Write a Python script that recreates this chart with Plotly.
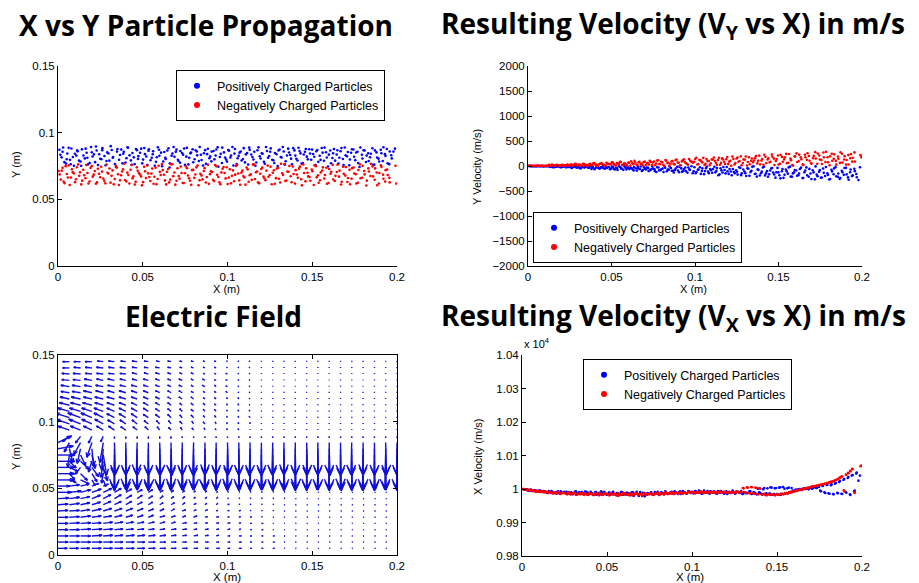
import math
import plotly.graph_objects as go
import plotly.figure_factory as ff

# ---------------- data ----------------
# particle snapshot A
X_POS = [0.0008, 0.0021, 0.0030, 0.0047, 0.0055, 0.0071, 0.0079, 0.0094, 0.0108, 0.0116,
         0.0133, 0.0141, 0.0158, 0.0169, 0.0177, 0.0195, 0.0204, 0.0219, 0.0228, 0.0243,
         0.0256, 0.0262, 0.0281, 0.0290, 0.0303, 0.0317, 0.0325, 0.0342, 0.0351, 0.0366,
         0.0380, 0.0388, 0.0404, 0.0413, 0.0430, 0.0439, 0.0452, 0.0466, 0.0474, 0.0491,
         0.0502, 0.0513, 0.0527, 0.0536, 0.0553, 0.0561, 0.0578, 0.0589, 0.0598, 0.0614,
         0.0627, 0.0635, 0.0652, 0.0660, 0.0675, 0.0687, 0.0699, 0.0711, 0.0722, 0.0738,
         0.0749, 0.0760, 0.0774, 0.0785, 0.0798, 0.0812, 0.0821, 0.0836, 0.0847, 0.0861,
         0.0873, 0.0884, 0.0898, 0.0907, 0.0923, 0.0934, 0.0946, 0.0960, 0.0969, 0.0986,
         0.0997, 0.1009, 0.1021, 0.1035, 0.1044, 0.1060, 0.1071, 0.1083, 0.1096, 0.1108,
         0.1122, 0.1131, 0.1147, 0.1158, 0.1170, 0.1183, 0.1195, 0.1207, 0.1220, 0.1233,
         0.1246, 0.1255, 0.1271, 0.1280, 0.1296, 0.1307, 0.1319, 0.1332, 0.1343, 0.1358,
         0.1370, 0.1380, 0.1395, 0.1406, 0.1419, 0.1431, 0.1444, 0.1457, 0.1468, 0.1482,
         0.1494, 0.1505, 0.1520, 0.1530, 0.1544, 0.1556, 0.1569, 0.1581, 0.1593, 0.1606,
         0.1619, 0.1628, 0.1644, 0.1655, 0.1667, 0.1681, 0.1692, 0.1705, 0.1718, 0.1729,
         0.1743, 0.1754, 0.1767, 0.1779, 0.1793, 0.1803, 0.1817, 0.1830, 0.1841, 0.1855,
         0.1866, 0.1879, 0.1891, 0.1904, 0.1916, 0.1929, 0.1940, 0.1954, 0.1966, 0.1979]

X_NEG = [0.0004, 0.0016, 0.0027, 0.0039, 0.0052, 0.0063, 0.0076, 0.0087, 0.0101, 0.0112,
         0.0125, 0.0137, 0.0149, 0.0162, 0.0174, 0.0186, 0.0199, 0.0211, 0.0224, 0.0235,
         0.0249, 0.0260, 0.0273, 0.0286, 0.0297, 0.0310, 0.0322, 0.0335, 0.0347, 0.0359,
         0.0372, 0.0384, 0.0396, 0.0409, 0.0421, 0.0434, 0.0445, 0.0458, 0.0470, 0.0483,
         0.0495, 0.0508, 0.0519, 0.0532, 0.0545, 0.0556, 0.0569, 0.0581, 0.0594, 0.0606,
         0.0618, 0.0631, 0.0643, 0.0656, 0.0667, 0.0680, 0.0692, 0.0705, 0.0717, 0.0729,
         0.0742, 0.0754, 0.0767, 0.0779, 0.0791, 0.0804, 0.0816, 0.0829, 0.0840, 0.0853,
         0.0865, 0.0878, 0.0890, 0.0902, 0.0915, 0.0927, 0.0939, 0.0952, 0.0964, 0.0977,
         0.0989, 0.1001, 0.1014, 0.1026, 0.1039, 0.1050, 0.1063, 0.1075, 0.1088, 0.1100,
         0.1113, 0.1125, 0.1137, 0.1150, 0.1162, 0.1175, 0.1187, 0.1199, 0.1212, 0.1224,
         0.1237, 0.1249, 0.1261, 0.1274, 0.1286, 0.1299, 0.1311, 0.1323, 0.1336, 0.1348,
         0.1360, 0.1373, 0.1385, 0.1398, 0.1410, 0.1422, 0.1435, 0.1447, 0.1460, 0.1472,
         0.1484, 0.1497, 0.1509, 0.1521, 0.1534, 0.1546, 0.1559, 0.1571, 0.1583, 0.1596,
         0.1608, 0.1621, 0.1633, 0.1645, 0.1658, 0.1670, 0.1682, 0.1695, 0.1707, 0.1720,
         0.1732, 0.1744, 0.1757, 0.1769, 0.1781, 0.1794, 0.1806, 0.1819, 0.1831, 0.1843,
         0.1856, 0.1868, 0.1880, 0.1893, 0.1905, 0.1918, 0.1930, 0.1942, 0.1955, 0.1996]

Y_POS = [0.0872, 0.0815, 0.0889, 0.0768, 0.0843, 0.0796, 0.0881, 0.0752, 0.0828, 0.0860,
         0.0784, 0.0875, 0.0807, 0.0849, 0.0762, 0.0893, 0.0821, 0.0779, 0.0866, 0.0838,
         0.0801, 0.0884, 0.0756, 0.0852, 0.0790, 0.0870, 0.0817, 0.0743, 0.0878, 0.0833,
         0.0771, 0.0856, 0.0809, 0.0887, 0.0792, 0.0847, 0.0764, 0.0869, 0.0824, 0.0880,
         0.0798, 0.0839, 0.0757, 0.0876, 0.0812, 0.0861, 0.0781, 0.0891, 0.0826, 0.0748,
         0.0855, 0.0803, 0.0883, 0.0770, 0.0844, 0.0819, 0.0873, 0.0787, 0.0862, 0.0835,
         0.0759, 0.0886, 0.0811, 0.0851, 0.0778, 0.0868, 0.0830, 0.0893, 0.0795, 0.0846,
         0.0766, 0.0879, 0.0822, 0.0858, 0.0800, 0.0874, 0.0745, 0.0841, 0.0888, 0.0813,
         0.0783, 0.0865, 0.0829, 0.0754, 0.0877, 0.0808, 0.0850, 0.0791, 0.0884, 0.0837,
         0.0761, 0.0871, 0.0818, 0.0857, 0.0776, 0.0890, 0.0806, 0.0842, 0.0767, 0.0863,
         0.0825, 0.0882, 0.0793, 0.0848, 0.0750, 0.0873, 0.0814, 0.0859, 0.0786, 0.0880,
         0.0832, 0.0763, 0.0867, 0.0804, 0.0887, 0.0845, 0.0773, 0.0856, 0.0820, 0.0876,
         0.0797, 0.0840, 0.0758, 0.0870, 0.0827, 0.0885, 0.0789, 0.0853, 0.0746, 0.0866,
         0.0810, 0.0878, 0.0836, 0.0769, 0.0861, 0.0802, 0.0889, 0.0823, 0.0755, 0.0849,
         0.0874, 0.0794, 0.0857, 0.0742, 0.0834, 0.0868, 0.0780, 0.0846, 0.0816, 0.0883,
         0.0760, 0.0852, 0.0805, 0.0871, 0.0788, 0.0839, 0.0877, 0.0764, 0.0831, 0.0858]

Y_NEG = [0.0712, 0.0648, 0.0736, 0.0621, 0.0690, 0.0755, 0.0663, 0.0704, 0.0629, 0.0741,
         0.0677, 0.0612, 0.0722, 0.0658, 0.0697, 0.0634, 0.0749, 0.0685, 0.0617, 0.0729,
         0.0666, 0.0708, 0.0640, 0.0761, 0.0693, 0.0625, 0.0717, 0.0652, 0.0738, 0.0608,
         0.0681, 0.0725, 0.0645, 0.0700, 0.0619, 0.0758, 0.0672, 0.0631, 0.0714, 0.0687,
         0.0605, 0.0744, 0.0660, 0.0695, 0.0637, 0.0731, 0.0669, 0.0614, 0.0752, 0.0683,
         0.0720, 0.0642, 0.0706, 0.0627, 0.0764, 0.0674, 0.0610, 0.0733, 0.0655, 0.0698,
         0.0623, 0.0747, 0.0679, 0.0639, 0.0719, 0.0661, 0.0740, 0.0606, 0.0691, 0.0650,
         0.0734, 0.0668, 0.0616, 0.0711, 0.0646, 0.0757, 0.0684, 0.0628, 0.0702, 0.0743,
         0.0657, 0.0615, 0.0726, 0.0676, 0.0636, 0.0750, 0.0694, 0.0609, 0.0715, 0.0664,
         0.0739, 0.0632, 0.0688, 0.0760, 0.0653, 0.0709, 0.0620, 0.0727, 0.0671, 0.0644,
         0.0753, 0.0682, 0.0613, 0.0718, 0.0659, 0.0736, 0.0626, 0.0696, 0.0765, 0.0641,
         0.0707, 0.0673, 0.0746, 0.0618, 0.0686, 0.0730, 0.0651, 0.0762, 0.0635, 0.0699,
         0.0667, 0.0723, 0.0607, 0.0748, 0.0680, 0.0643, 0.0716, 0.0656, 0.0737, 0.0622,
         0.0692, 0.0759, 0.0638, 0.0705, 0.0670, 0.0611, 0.0745, 0.0678, 0.0630, 0.0721,
         0.0654, 0.0739, 0.0689, 0.0624, 0.0763, 0.0662, 0.0713, 0.0604, 0.0732, 0.0675,
         0.0747, 0.0647, 0.0701, 0.0619, 0.0756, 0.0685, 0.0633, 0.0724, 0.0661, 0.0618]

VY_POS = [-1, -6, -3, -7, -2, -5, 0, -7, -4, -3,
          -19, -6, -25, -13, -3, -22, -15, -9, -27, -18,
          -18, -37, -8, -32, -23, -43, -12, -26, -4, -34,
          -59, -22, -40, -8, -52, -29, -46, -13, -36, -64,
          -13, -61, -35, -79, -24, -51, -4, -71, -43, -30,
          -70, -23, -92, -48, -11, -82, -58, -33, -102, -66,
          -50, -103, -23, -88, -65, -119, -33, -73, -10, -95,
          -131, -49, -90, -19, -116, -64, -103, -29, -81, -144,
          -26, -122, -70, -158, -48, -102, -9, -143, -85, -60,
          -127, -42, -167, -87, -19, -148, -105, -59, -184, -120,
          -84, -172, -38, -147, -109, -200, -55, -122, -17, -160,
          -212, -80, -146, -31, -188, -103, -167, -47, -132, -233,
          -38, -184, -105, -237, -71, -153, -13, -214, -128, -89,
          -184, -61, -242, -127, -28, -215, -151, -85, -267, -173,
          -114, -234, -51, -200, -148, -271, -74, -165, -23, -217,
          -257, -97, -177, -37, -228, -125, -202, -57, -160, -282]

VY_NEG = [3, 7, 1, 6, 4, 8, 2, 5, 1, 6,
          25, 10, 17, 4, 22, 12, 20, 6, 16, 28,
          7, 32, 18, 42, 13, 27, 2, 38, 23, 16,
          44, 14, 57, 30, 7, 51, 36, 20, 63, 41,
          34, 70, 15, 60, 44, 81, 22, 49, 7, 65,
          95, 36, 65, 14, 84, 46, 75, 21, 59, 104,
          19, 90, 51, 116, 35, 75, 6, 105, 63, 44,
          97, 32, 128, 67, 15, 113, 80, 45, 141, 91,
          68, 139, 31, 119, 88, 162, 44, 99, 14, 129,
          171, 65, 118, 25, 152, 84, 135, 38, 106, 188,
          32, 151, 86, 195, 59, 126, 11, 176, 105, 74,
          157, 52, 207, 108, 24, 183, 129, 73, 228, 148,
          102, 209, 46, 179, 133, 242, 66, 148, 20, 194,
          252, 95, 174, 36, 224, 123, 199, 56, 157, 277,
          44, 209, 119, 270, 81, 174, 15, 244, 145, 102,
          188, 62, 246, 129, 28, 218, 154, 87, 272, 176]

VX_POS = [10000, 9998, 9999, 9996, 9997, 9994, 9996, 9993, 9995, 9992,
          9993, 9990, 9994, 9989, 9992, 9988, 9991, 9987, 9993, 9989,
          9988, 9992, 9985, 9990, 9987, 9993, 9984, 9989, 9991, 9986,
          9989, 9984, 9992, 9986, 9990, 9983, 9988, 9993, 9985, 9987,
          9984, 9990, 9986, 9992, 9982, 9988, 9985, 9991, 9983, 9989,
          9987, 9981, 9990, 9984, 9992, 9979, 9986, 9989, 9978, 9988,
          9985, 9990, 9983, 9988, 9992, 9986, 9989, 9984, 9991, 9987,
          9990, 9986, 9993, 9988, 9991, 9985, 9994, 9989, 9987, 9992,
          9991, 9987, 9994, 9989, 9992, 9986, 9995, 9990, 9988, 9993,
          9989, 9993, 9986, 9991, 9994, 9988, 9990, 9985, 9992, 9989,
          9990, 9986, 9992, 9988, 9985, 9991, 9987, 9989, 9993, 9986,
          9988, 9984, 9990, 9986, 9999, 9983, 10002, 9987, 10004, 9985,
          10003, 9984, 10005, 9986, 10001, 9988, 10004, 9992, 9995, 9997,
          9996, 9999, 9998, 10001, 10000, 10002, 10003, 10001, 10005, 10004,
          10007, 9995, 10009, 9990, 10012, 9987, 10011, 9985, 10016, 9989,
          10021, 9986, 10027, 9991, 10033, 9984, 10040, 9993, 10046, 10025]

VX_NEG = [10000, 9999, 9997, 9998, 9995, 9996, 9993, 9995, 9992, 9993,
          9991, 9993, 9989, 9992, 9988, 9990, 9987, 9991, 9986, 9989,
          9988, 9985, 9990, 9984, 9987, 9989, 9983, 9986, 9988, 9984,
          9986, 9983, 9988, 9985, 9982, 9987, 9984, 9989, 9983, 9986,
          9985, 9982, 9988, 9984, 9986, 9981, 9987, 9983, 9989, 9985,
          9983, 9987, 9982, 9985, 9988, 9984, 9986, 9981, 9987, 9984,
          9985, 9988, 9983, 9986, 9989, 9984, 9987, 9985, 9990, 9986,
          9987, 9990, 9986, 9989, 9988, 9991, 9987, 9990, 9988, 9992,
          9989, 9992, 9988, 9991, 9990, 9993, 9989, 9991, 9990, 9992,
          9990, 9992, 9989, 9991, 9993, 9990, 9992, 9989, 9991, 9990,
          9991, 9989, 9993, 9990, 9992, 10003, 9990, 10005, 9988, 10006,
          9987, 10004, 9985, 10002, 9984, 9986, 9982, 9985, 9983, 9984,
          9982, 9985, 9983, 9986, 9985, 9988, 9987, 9990, 9991, 9993,
          9995, 9997, 9998, 10000, 10001, 10003, 10004, 10006, 10008, 10009,
          10010, 10012, 10013, 10015, 10016, 10018, 10020, 10022, 10024, 10027,
          10030, 10034, 10038, 9996, 10043, 10048, 10054, 10060, 9990, 10070]

# particle snapshot B
X_POS_B = [0.0014, 0.0027, 0.0038, 0.0052, 0.0063, 0.0075, 0.0088, 0.0100, 0.0113, 0.0124,
           0.0137, 0.0150, 0.0163, 0.0173, 0.0187, 0.0199, 0.0212, 0.0224, 0.0236, 0.0249,
           0.0261, 0.0274, 0.0286, 0.0298, 0.0311, 0.0323, 0.0336, 0.0348, 0.0360, 0.0373,
           0.0385, 0.0398, 0.0410, 0.0422, 0.0435, 0.0447, 0.0460, 0.0472, 0.0484, 0.0497,
           0.0509, 0.0521, 0.0534, 0.0546, 0.0559, 0.0571, 0.0583, 0.0596, 0.0608, 0.0621,
           0.0633, 0.0645, 0.0658, 0.0670, 0.0682, 0.0695, 0.0707, 0.0720, 0.0732, 0.0744,
           0.0757, 0.0769, 0.0781, 0.0794, 0.0806, 0.0819, 0.0831, 0.0843, 0.0856, 0.0868,
           0.0880, 0.0893, 0.0905, 0.0918, 0.0930, 0.0942, 0.0955, 0.0967, 0.0979, 0.0992,
           0.1004, 0.1017, 0.1029, 0.1041, 0.1054, 0.1066, 0.1078, 0.1091, 0.1103, 0.1116,
           0.1128, 0.1140, 0.1153, 0.1165, 0.1177, 0.1190, 0.1202, 0.1215, 0.1227, 0.1239,
           0.1252, 0.1264, 0.1276, 0.1289, 0.1301, 0.1314, 0.1326, 0.1338, 0.1351, 0.1363,
           0.1375, 0.1388, 0.1400, 0.1413, 0.1425, 0.1437, 0.1450, 0.1462, 0.1474, 0.1487,
           0.1499, 0.1512, 0.1524, 0.1536, 0.1549, 0.1561, 0.1573, 0.1586, 0.1598, 0.1611,
           0.1623, 0.1635, 0.1648, 0.1660, 0.1672, 0.1685, 0.1697, 0.1710, 0.1722, 0.1734,
           0.1747, 0.1759, 0.1771, 0.1784, 0.1796, 0.1809, 0.1821, 0.1833, 0.1846, 0.1858,
           0.1870, 0.1883, 0.1895, 0.1908, 0.1920, 0.1932, 0.1945, 0.1957, 0.1969, 0.1988]

X_NEG_B = [0.0010, 0.0022, 0.0033, 0.0045, 0.0058, 0.0069, 0.0082, 0.0093, 0.0106, 0.0119,
           0.0130, 0.0143, 0.0155, 0.0167, 0.0180, 0.0192, 0.0205, 0.0217, 0.0230, 0.0242,
           0.0255, 0.0267, 0.0279, 0.0292, 0.0304, 0.0316, 0.0329, 0.0341, 0.0354, 0.0366,
           0.0378, 0.0391, 0.0403, 0.0415, 0.0428, 0.0440, 0.0453, 0.0465, 0.0477, 0.0490,
           0.0502, 0.0514, 0.0527, 0.0539, 0.0551, 0.0564, 0.0576, 0.0588, 0.0601, 0.0613,
           0.0625, 0.0638, 0.0650, 0.0662, 0.0675, 0.0687, 0.0699, 0.0712, 0.0724, 0.0736,
           0.0749, 0.0761, 0.0773, 0.0786, 0.0798, 0.0810, 0.0823, 0.0835, 0.0847, 0.0860,
           0.0872, 0.0884, 0.0897, 0.0909, 0.0921, 0.0934, 0.0946, 0.0958, 0.0971, 0.0983,
           0.0995, 0.1008, 0.1020, 0.1032, 0.1045, 0.1057, 0.1069, 0.1082, 0.1094, 0.1106,
           0.1119, 0.1131, 0.1143, 0.1156, 0.1168, 0.1180, 0.1193, 0.1205, 0.1217, 0.1230,
           0.1242, 0.1254, 0.1267, 0.1279, 0.1291, 0.1304, 0.1316, 0.1328, 0.1341, 0.1353,
           0.1365, 0.1378, 0.1390, 0.1402, 0.1415, 0.1427, 0.1439, 0.1452, 0.1464, 0.1476,
           0.1489, 0.1501, 0.1513, 0.1526, 0.1538, 0.1550, 0.1563, 0.1575, 0.1587, 0.1600,
           0.1612, 0.1624, 0.1637, 0.1649, 0.1661, 0.1674, 0.1686, 0.1698, 0.1711, 0.1723,
           0.1735, 0.1748, 0.1760, 0.1772, 0.1785, 0.1797, 0.1809, 0.1822, 0.1834, 0.1846,
           0.1859, 0.1871, 0.1883, 0.1896, 0.1908, 0.1920, 0.1933, 0.1945, 0.1957, 0.1991]

Y_POS_B = [0.0834, 0.0857, 0.0779, 0.0801, 0.0886, 0.0763, 0.0818, 0.0842, 0.0867, 0.0790,
           0.0751, 0.0829, 0.0880, 0.0812, 0.0773, 0.0853, 0.0837, 0.0896, 0.0758, 0.0804,
           0.0868, 0.0825, 0.0787, 0.0844, 0.0899, 0.0812, 0.0765, 0.0858, 0.0797, 0.0874,
           0.0842, 0.0776, 0.0890, 0.0831, 0.0759, 0.0815, 0.0877, 0.0803, 0.0849, 0.0770,
           0.0885, 0.0821, 0.0864, 0.0793, 0.0838, 0.0752, 0.0816, 0.0872, 0.0850, 0.0784,
           0.0811, 0.0866, 0.0739, 0.0827, 0.0892, 0.0856, 0.0797, 0.0774, 0.0847, 0.0881,
           0.0820, 0.0762, 0.0845, 0.0876, 0.0801, 0.0859, 0.0788, 0.0834, 0.0753, 0.0869,
           0.0839, 0.0808, 0.0785, 0.0863, 0.0829, 0.0891, 0.0817, 0.0772, 0.0852, 0.0798,
           0.0870, 0.0814, 0.0892, 0.0843, 0.0765, 0.0826, 0.0859, 0.0802, 0.0777, 0.0848,
           0.0888, 0.0836, 0.0799, 0.0752, 0.0868, 0.0823, 0.0846, 0.0781, 0.0892, 0.0812,
           0.0857, 0.0796, 0.0772, 0.0839, 0.0866, 0.0818, 0.0893, 0.0760, 0.0829, 0.0851,
           0.0805, 0.0884, 0.0828, 0.0791, 0.0862, 0.0768, 0.0836, 0.0878, 0.0800, 0.0844,
           0.0873, 0.0819, 0.0861, 0.0781, 0.0796, 0.0850, 0.0888, 0.0814, 0.0835, 0.0771,
           0.0845, 0.0790, 0.0868, 0.0812, 0.0885, 0.0758, 0.0830, 0.0855, 0.0799, 0.0876,
           0.0819, 0.0851, 0.0773, 0.0889, 0.0806, 0.0866, 0.0828, 0.0787, 0.0842, 0.0759,
           0.0867, 0.0813, 0.0784, 0.0846, 0.0891, 0.0825, 0.0770, 0.0859, 0.0807, 0.0880]

Y_NEG_B = [0.0687, 0.0715, 0.0633, 0.0749, 0.0664, 0.0608, 0.0726, 0.0695, 0.0651, 0.0762,
           0.0703, 0.0640, 0.0681, 0.0758, 0.0619, 0.0735, 0.0670, 0.0712, 0.0627, 0.0691,
           0.0744, 0.0656, 0.0620, 0.0699, 0.0731, 0.0676, 0.0613, 0.0752, 0.0688, 0.0643,
           0.0709, 0.0767, 0.0635, 0.0683, 0.0722, 0.0659, 0.0611, 0.0740, 0.0697, 0.0672,
           0.0629, 0.0710, 0.0754, 0.0668, 0.0693, 0.0617, 0.0737, 0.0652, 0.0706, 0.0765,
           0.0684, 0.0612, 0.0727, 0.0648, 0.0763, 0.0701, 0.0639, 0.0675, 0.0746, 0.0622,
           0.0696, 0.0733, 0.0658, 0.0609, 0.0721, 0.0686, 0.0753, 0.0644, 0.0678, 0.0712,
           0.0626, 0.0760, 0.0689, 0.0705, 0.0637, 0.0748, 0.0667, 0.0614, 0.0729, 0.0698,
           0.0741, 0.0663, 0.0620, 0.0717, 0.0685, 0.0757, 0.0642, 0.0700, 0.0674, 0.0610,
           0.0725, 0.0681, 0.0646, 0.0762, 0.0703, 0.0627, 0.0692, 0.0738, 0.0658, 0.0715,
           0.0669, 0.0744, 0.0699, 0.0616, 0.0731, 0.0654, 0.0766, 0.0683, 0.0638, 0.0708,
           0.0750, 0.0628, 0.0690, 0.0719, 0.0662, 0.0745, 0.0605, 0.0697, 0.0733, 0.0672,
           0.0639, 0.0711, 0.0756, 0.0665, 0.0624, 0.0702, 0.0740, 0.0682, 0.0617, 0.0728,
           0.0706, 0.0649, 0.0676, 0.0759, 0.0715, 0.0632, 0.0691, 0.0743, 0.0660, 0.0613,
           0.0734, 0.0694, 0.0619, 0.0720, 0.0658, 0.0751, 0.0687, 0.0640, 0.0709, 0.0766,
           0.0672, 0.0732, 0.0606, 0.0697, 0.0743, 0.0654, 0.0719, 0.0683, 0.0627, 0.0752]

VY_POS_B = [-4, -1, -7, -3, -5, -2, -8, -4, 0, -6,
            -8, -23, -13, -2, -18, -25, -11, -5, -20, -15,
            -38, -20, -6, -27, -43, -11, -30, -16, -36, -4,
            -33, -63, -16, -45, -27, -7, -54, -38, -20, -49,
            -25, -69, -41, -6, -54, -77, -32, -14, -61, -45,
            -89, -46, -15, -62, -101, -26, -69, -38, -83, -9,
            -63, -121, -30, -86, -53, -14, -104, -73, -39, -95,
            -80, -17, -126, -48, -99, -30, -136, -67, -4, -107,
            -145, -75, -24, -100, -163, -43, -112, -61, -134, -15,
            -95, -184, -46, -131, -80, -21, -158, -110, -59, -144,
            -116, -25, -183, -69, -143, -44, -197, -97, -6, -155,
            -68, -190, -113, -16, -148, -214, -89, -40, -169, -125,
            -128, -247, -61, -176, -107, -28, -212, -148, -79, -194,
            -151, -33, -239, -91, -187, -58, -259, -127, -8, -204,
            -83, -231, -137, -20, -180, -259, -108, -48, -205, -151,
            -242, -125, -40, -168, -274, -71, -188, -103, -225, -26]

VY_NEG_B = [7, 4, 1, 5, 8, 2, 5, 3, 6, 1,
            14, 27, 7, 19, 12, 3, 23, 16, 9, 21,
            25, 5, 39, 15, 31, 9, 42, 21, 1, 33,
            19, 53, 31, 5, 41, 59, 25, 11, 47, 34,
            72, 37, 12, 50, 82, 21, 56, 31, 67, 8,
            53, 102, 25, 72, 44, 12, 87, 61, 33, 80,
            69, 15, 109, 41, 85, 26, 118, 58, 4, 93,
            42, 117, 70, 10, 91, 132, 55, 25, 104, 77,
            85, 165, 41, 117, 71, 19, 141, 99, 53, 129,
            105, 23, 165, 63, 129, 40, 179, 87, 6, 141,
            61, 170, 101, 15, 132, 191, 80, 36, 151, 111,
            200, 103, 33, 139, 226, 59, 155, 85, 186, 21,
            140, 31, 222, 84, 173, 54, 240, 117, 8, 189,
            81, 227, 134, 20, 176, 255, 106, 48, 202, 148,
            251, 130, 41, 174, 283, 74, 195, 106, 233, 27,
            143, 276, 68, 197, 120, 31, 237, 165, 88, 217]

VX_POS_B = [9999, 9997, 9995, 9998, 9994, 9996, 9993, 9995, 9991, 9994,
            9992, 9988, 9991, 9994, 9987, 9990, 9993, 9986, 9989, 9992,
            9986, 9991, 9989, 9984, 9992, 9987, 9990, 9985, 9988, 9993,
            9990, 9985, 9988, 9982, 9991, 9986, 9984, 9989, 9992, 9983,
            9987, 9983, 9990, 9985, 9988, 9981, 9991, 9986, 9984, 9989,
            9984, 9990, 9980, 9987, 9985, 9991, 9979, 9988, 9983, 9986,
            9989, 9984, 9991, 9986, 9982, 9990, 9987, 9993, 9985, 9988,
            9992, 9987, 9990, 9985, 9993, 9988, 9991, 9986, 9994, 9989,
            9988, 9993, 9990, 9995, 9987, 9991, 9989, 9994, 9986, 9992,
            9991, 9987, 9994, 9989, 9992, 9986, 9993, 9990, 9988, 9995,
            9987, 9992, 9989, 9994, 9986, 9990, 9988, 9993, 9985, 9991,
            9986, 10001, 9989, 9984, 10003, 9987, 9985, 10005, 9983, 10002,
            9985, 10004, 9983, 10006, 9987, 10002, 9990, 10003, 9993, 9998,
            9998, 10000, 9997, 10002, 10001, 9999, 10004, 10002, 10006, 10003,
            10006, 9993, 10010, 9988, 10013, 9986, 10014, 9984, 10018, 9987,
            10024, 9985, 10030, 9989, 10036, 9982, 10042, 9995, 10049, 10040]

VX_NEG_B = [9999, 9998, 9996, 9997, 9994, 9995, 9992, 9994, 9991, 9993,
            9990, 9992, 9988, 9991, 9987, 9989, 9986, 9990, 9985, 9988,
            9987, 9984, 9989, 9985, 9988, 9983, 9986, 9984, 9987, 9982,
            9985, 9982, 9987, 9984, 9983, 9986, 9981, 9985, 9982, 9987,
            9984, 9981, 9986, 9983, 9985, 9980, 9984, 9982, 9987, 9983,
            9982, 9986, 9981, 9984, 9987, 9983, 9985, 9980, 9986, 9983,
            9984, 9987, 9982, 9985, 9988, 9983, 9986, 9984, 9989, 9985,
            9986, 9989, 9985, 9988, 9987, 9990, 9986, 9989, 9987, 9991,
            9988, 9991, 9987, 9990, 9989, 9992, 9988, 9990, 9989, 9991,
            9989, 9991, 9988, 9990, 9992, 9989, 9991, 9988, 9990, 9989,
            9990, 9988, 9992, 9989, 9991, 10002, 9989, 10004, 9987, 10005,
            9986, 10003, 9984, 10001, 9983, 9985, 9981, 9984, 9982, 9983,
            9981, 9984, 9982, 9985, 9984, 9987, 9986, 9989, 9990, 9992,
            9994, 9996, 9997, 9999, 10000, 10002, 10003, 10005, 10007, 10008,
            10009, 10011, 10012, 10014, 10015, 10017, 10019, 10021, 10023, 10026,
            10029, 10033, 10037, 9993, 10042, 10047, 10053, 10059, 9988, 10068]

# Electric field sample grid and vector components (arrow length in units of 0.0005 m)
X_GRID = [0, 0.0067, 0.0133, 0.02, 0.0267, 0.0333, 0.04, 0.0467, 0.0533, 0.06, 0.0667,
          0.0733, 0.08, 0.0867, 0.0933, 0.1, 0.1067, 0.1133, 0.12, 0.1267, 0.1333, 0.14,
          0.1467, 0.1533, 0.16, 0.1667, 0.1733, 0.18, 0.1867, 0.1933, 0.2]
Y_GRID = [0.005, 0.0097, 0.0143, 0.019, 0.0237, 0.0283, 0.033, 0.0377, 0.0423, 0.047,
          0.0517, 0.0563, 0.061, 0.0657, 0.0703, 0.075, 0.0797, 0.0843, 0.089, 0.0937,
          0.0983, 0.103, 0.1077, 0.1123, 0.117, 0.1217, 0.1263, 0.131, 0.1357, 0.1403, 0.145]

U_ROWS = [
    [11, 11, 11, 11, 11, 10, 10, 9, 8, 7, 6, 6, 5, 4, 4, 3, 3, 2, 2, 2, 1, 1, 1, 1, 1, 1, 1, 1, 1, 1, 1],
    [12, 12, 12, 12, 11, 10, 10, 9, 8, 7, 6, 5, 5, 4, 3, 3, 3, 2, 2, 2, 1, 1, 1, 1, 1, 1, 1, 1, 1, 1, 1],
    [12, 12, 12, 12, 11, 10, 10, 9, 8, 7, 6, 5, 5, 4, 3, 3, 3, 2, 2, 2, 1, 1, 1, 1, 1, 1, 1, 1, 1, 1, 1],
    [12, 12, 12, 12, 11, 10, 9, 8, 7, 6, 6, 5, 4, 4, 3, 3, 2, 2, 2, 1, 1, 1, 1, 1, 1, 1, 1, 1, 1, 1, 1],
    [12, 12, 12, 11, 11, 10, 9, 8, 7, 6, 5, 5, 4, 3, 3, 3, 2, 2, 2, 1, 1, 1, 1, 1, 1, 1, 1, 1, 1, 1, 1],
    [12, 12, 12, 11, 10, 9, 8, 7, 6, 6, 5, 4, 4, 3, 3, 2, 2, 2, 1, 1, 1, 1, 1, 1, 1, 1, 1, 1, 1, 1, 1],
    [12, 12, 11, 11, 10, 9, 8, 7, 6, 5, 4, 4, 3, 3, 2, 2, 2, 1, 1, 1, 1, 1, 1, 1, 1, 1, 1, 1, 1, 1, 1],
    [12, 12, 11, 10, 9, 8, 7, 6, 5, 4, 4, 3, 3, 2, 2, 2, 1, 1, 1, 1, 1, 1, 1, 1, 1, 1, 1, 1, 1, 1, 1],
    [13, 12, 11, 10, 9, 8, 7, 6, 5, 4, 3, 3, 2, 2, 2, 1, 1, 1, 1, 1, 1, 1, 1, 1, 1, 1, 1, 1, 1, 1, 1],
    [16, 14, 12, 11, 10, 8, 7, 6, 5, 4, 3, 3, 2, 2, 2, 1, 1, 1, 1, 1, 1, 1, 1, 1, 1, 1, 1, 1, 1, 1, 1],
    [14, 12, 10, 8, 6, 1, 0, 0, 1, 0, 0, 0, 0, 1, 0, 0, 0, 0, 0, 0, 1, 0, 0, 0, 0, 0, 0, 0, 0, 0, 0],
    [20, 8, 10, 4, 3, 0, 1, 0, 0, 0, -1, 0, 0, 0, 1, 0, 0, 0, 0, -1, 0, 0, 0, 0, 0, 1, 0, 0, 0, 0, 0],
    [20, 6, 8, 6, -2, 0, 0, 1, 0, 0, 0, 0, -1, 0, 0, 0, 1, 0, 0, 0, 0, 0, 0, -1, 0, 0, 0, 0, 1, 0, 0],
    [20, 10, -6, 8, 5, 0, 0, 0, 0, 1, 0, 0, 0, 0, 0, -1, 0, 0, 0, 0, 1, 0, 0, 0, 0, 0, 0, -1, 0, 0, 0],
    [20, 8, 10, -4, -3, 0, 1, 0, 0, 0, 0, 1, 0, 0, 0, 0, 0, 0, 1, 0, 0, 0, 0, 0, 0, 1, 0, 0, 0, 0, 0],
    [20, -2, 6, 4, 4, 0, 0, 0, 1, 0, 0, 0, 0, -1, 0, 0, 0, 0, 0, 0, 0, 1, 0, 0, 0, 0, 0, 0, 0, -1, 0],
    [18, 4, -4, 2, -2, 0, 0, 0, 0, 0, 1, 0, 0, 0, 0, 0, 0, -1, 0, 0, 0, 0, 0, 0, 1, 0, 0, 0, 0, 0, 0],
    [16, -6, -8, -6, -4, 1, 0, -1, 0, 1, 0, 0, -1, 0, 0, 1, 0, 0, 0, -1, 0, 0, 1, 0, 0, 0, -1, 0, 0, 1, 0],
    [-10, -8, -6, -4, -3, 0, 0, 0, 0, 0, 0, 0, 0, 0, 0, 0, 0, 0, 0, 0, 0, 0, 0, 0, 0, 0, 0, 0, 0, 0, 0],
    [-16, -14, -12, -10, -8, -7, -6, -5, -4, -3, -3, -2, -2, -1, -1, -1, -1, 0, 0, 0, 0, 0, 0, 0, 0, 0, 0, 0, 0, 0, 0],
    [-18, -16, -14, -12, -10, -8, -7, -6, -5, -4, -3, -3, -2, -2, -1, -1, -1, 0, 0, 0, 0, 0, 0, 0, 0, 0, 0, 0, 0, 0, 0],
    [-18, -17, -15, -13, -11, -9, -8, -7, -6, -5, -4, -3, -3, -2, -2, -1, -1, -1, 0, 0, 0, 0, 0, 0, 0, 0, 0, 0, 0, 0, 0],
    [-14, -14, -13, -12, -11, -9, -8, -7, -6, -5, -4, -3, -3, -2, -2, -1, -1, -1, 0, 0, 0, 0, 0, 0, 0, 0, 0, 0, 0, 0, 0],
    [-12, -12, -12, -11, -10, -9, -8, -7, -6, -5, -4, -3, -3, -2, -2, -1, -1, -1, 0, 0, 0, 0, 0, 0, 0, 0, 0, 0, 0, 0, 0],
    [-11, -11, -11, -10, -10, -9, -8, -7, -6, -5, -4, -4, -3, -2, -2, -1, -1, -1, 0, 0, 0, 0, 0, 0, 0, 0, 0, 0, 0, 0, 0],
    [-10, -10, -10, -10, -9, -8, -8, -7, -6, -5, -4, -4, -3, -2, -2, -2, -1, -1, 0, 0, 0, 0, 0, 0, 0, 0, 0, 0, 0, 0, 0],
    [-10, -10, -10, -9, -9, -8, -7, -7, -6, -5, -4, -4, -3, -3, -2, -2, -1, -1, 0, 0, 0, 0, 0, 0, 0, 0, 0, 0, 0, 0, 0],
    [-9, -9, -9, -9, -8, -8, -7, -6, -6, -5, -4, -4, -3, -3, -2, -2, -1, -1, 0, 0, 0, 0, 0, 0, 0, 0, 0, 0, 0, 0, 0],
    [-9, -9, -9, -8, -8, -7, -7, -6, -5, -5, -4, -3, -3, -2, -2, -2, -1, -1, 0, 0, 0, 0, 0, 0, 0, 0, 0, 0, 0, 0, 0],
    [-8, -8, -8, -8, -8, -7, -7, -6, -5, -5, -4, -3, -3, -2, -2, -1, -1, -1, 0, 0, 0, 0, 0, 0, 0, 0, 0, 0, 0, 0, 0],
    [-8, -8, -8, -8, -7, -7, -6, -6, -5, -4, -4, -3, -3, -2, -2, -1, -1, -1, 0, 0, 0, 0, 0, 0, 0, 0, 0, 0, 0, 0, 0],
]

V_ROWS = [
    [0, 0, 0, 0, 0, 0, 0, 0, 0, 0, 0, 0, 0, 0, 0, 0, 0, 0, 0, 0, 0, 0, 0, 0, 0, 0, 0, 0, 0, 0, 0],
    [0, 0, 0, 0, 0, 0, 0, 0, 0, 0, 0, 0, 0, 0, 0, 0, 0, 0, 0, 0, 0, 0, 0, 0, 0, 0, 0, 0, 0, 0, 0],
    [0, 0, 0, 1, 1, 1, 1, 1, 1, 1, 1, 1, 1, 1, 1, 0, 0, 0, 0, 0, 0, 0, 0, 0, 0, 0, 0, 0, 0, 0, 0],
    [0, 0, 1, 1, 1, 1, 1, 1, 1, 1, 1, 1, 1, 1, 1, 1, 1, 0, 0, 0, 0, 0, 0, 0, 0, 0, 0, 0, 0, 0, 0],
    [0, 1, 1, 1, 2, 2, 2, 2, 2, 2, 2, 1, 1, 1, 1, 1, 1, 0, 0, 0, 0, 0, 0, 0, 0, 0, 0, 0, 0, 0, 0],
    [0, 1, 2, 2, 2, 3, 3, 3, 3, 2, 2, 2, 2, 1, 1, 1, 1, 1, 1, 0, 0, 0, 0, 0, 0, 0, 0, 0, 0, 0, 0],
    [1, 1, 2, 3, 4, 4, 4, 4, 3, 3, 3, 2, 2, 2, 1, 1, 1, 1, 1, 1, 0, 0, 0, 0, 0, 0, 0, 0, 0, 0, 0],
    [1, 2, 3, 4, 5, 5, 5, 4, 4, 3, 3, 3, 2, 2, 2, 1, 1, 1, 1, 1, 0, 0, 0, 0, 0, 0, 0, 0, 0, 0, 0],
    [1, 2, 3, 5, 6, 6, 5, 5, 4, 4, 3, 3, 2, 2, 2, 1, 1, 1, 1, 1, 1, 0, 0, 0, 0, 0, 0, 0, 0, 0, 0],
    [0, 2, 4, 5, 6, 6, 5, 4, 4, 3, 3, 2, 2, 2, 1, 1, 1, 1, 1, 1, 1, 0, 0, 0, 0, 0, 0, 0, 0, 0, 0],
    [0, 2, 3, 4, 3, -3, -3, -3, -3, -3, -3, -3, -3, -3, -3, -3, -3, -3, -3, -3, -3, -3, -3, -3, -3, -3, -3, -3, -3, -3, -3],
    [0, -4, -6, -8, -10, -14, -14, -13, -14, -14, -14, -13, -14, -14, -14, -14, -13, -14, -14, -14, -14, -14, -13, -14, -14, -14, -14, -13, -14, -14, -14],
    [0, -8, -10, -12, -14, -24, -24, -23, -24, -24, -24, -24, -23, -24, -24, -24, -24, -24, -23, -24, -24, -24, -24, -24, -23, -24, -24, -24, -24, -24, -23],
    [0, -6, -10, -14, -20, -34, -33, -34, -34, -34, -33, -34, -34, -34, -34, -33, -34, -34, -34, -34, -33, -34, -34, -34, -34, -34, -33, -34, -34, -34, -34],
    [0, -10, -12, -16, -24, -44, -44, -43, -44, -44, -44, -44, -43, -44, -44, -44, -44, -44, -43, -44, -44, -44, -44, -43, -44, -44, -44, -44, -44, -43, -44],
    [0, -18, -16, -20, -30, -52, -51, -52, -52, -52, -51, -52, -52, -52, -52, -51, -52, -52, -52, -52, -52, -51, -52, -52, -52, -51, -52, -52, -52, -52, -52],
    [4, -20, -22, -26, -32, -40, -40, -41, -40, -40, -40, -40, -41, -40, -40, -40, -40, -40, -41, -40, -40, -40, -40, -40, -40, -41, -40, -40, -40, -40, -40],
    [10, -14, -18, -22, -30, -48, -48, -47, -48, -48, -48, -48, -48, -47, -48, -48, -48, -48, -48, -48, -47, -48, -48, -48, -48, -48, -48, -47, -48, -48, -48],
    [-6, -8, -10, -10, -8, -3, -3, -3, -3, -3, -3, -2, -2, -2, -2, -2, -2, -2, -2, -2, -2, -2, -2, -2, -2, -2, -2, -2, -2, -2, -2],
    [6, 6, 6, 6, 6, 6, 5, 5, 5, 5, 4, 4, 3, 3, 2, 2, 2, 1, 1, 1, 1, 1, 1, 1, 1, 1, 1, 1, 1, 1, 1],
    [7, 7, 7, 7, 7, 6, 6, 6, 5, 5, 5, 4, 4, 3, 3, 2, 2, 2, 1, 1, 1, 1, 1, 1, 1, 1, 1, 1, 1, 1, 1],
    [6, 7, 7, 7, 7, 6, 6, 6, 5, 5, 5, 4, 4, 3, 3, 2, 2, 2, 1, 1, 1, 1, 1, 1, 1, 1, 1, 1, 1, 1, 1],
    [4, 5, 5, 5, 5, 5, 5, 5, 5, 4, 4, 4, 3, 3, 3, 2, 2, 2, 1, 1, 1, 1, 1, 1, 1, 1, 1, 1, 1, 1, 1],
    [3, 4, 4, 4, 4, 4, 4, 4, 4, 4, 4, 3, 3, 3, 2, 2, 2, 1, 1, 1, 1, 1, 1, 1, 1, 1, 1, 1, 1, 1, 1],
    [2, 3, 3, 3, 3, 3, 3, 3, 3, 3, 3, 3, 3, 2, 2, 2, 2, 1, 1, 1, 1, 1, 1, 1, 1, 1, 1, 1, 1, 1, 1],
    [2, 2, 2, 3, 3, 3, 3, 3, 3, 3, 3, 3, 2, 2, 2, 2, 1, 1, 1, 1, 1, 1, 1, 1, 1, 1, 1, 1, 1, 1, 1],
    [1, 2, 2, 2, 2, 2, 2, 2, 2, 2, 2, 2, 2, 2, 2, 1, 1, 1, 1, 1, 1, 1, 1, 1, 1, 1, 1, 1, 1, 1, 1],
    [1, 1, 1, 2, 2, 2, 2, 2, 2, 2, 2, 2, 2, 2, 1, 1, 1, 1, 1, 1, 1, 1, 1, 1, 1, 1, 1, 1, 1, 1, 1],
    [0, 1, 1, 1, 1, 1, 1, 2, 2, 2, 2, 2, 2, 1, 1, 1, 1, 1, 1, 1, 1, 1, 1, 1, 1, 1, 1, 1, 1, 1, 1],
    [0, 0, 1, 1, 1, 1, 1, 1, 1, 1, 1, 1, 1, 1, 1, 1, 1, 1, 1, 1, 1, 1, 1, 1, 1, 1, 1, 1, 1, 1, 1],
    [0, 0, 0, 0, 1, 1, 1, 1, 1, 1, 1, 1, 1, 1, 1, 1, 1, 1, 1, 1, 1, 1, 1, 1, 1, 1, 1, 1, 1, 1, 1],
]

X_TICKS = [0, 0.05, 0.1, 0.15, 0.2]
X_TICKTEXT = ["0", "0.05", "0.1", "0.15", "0.2"]
Y_TICKS = [0, 0.05, 0.1, 0.15]
Y_TICKTEXT = ["0", "0.05", "0.1", "0.15"]
VX_TICKVALS = [9800, 9900, 10000, 10100, 10200, 10300, 10400]
VX_TICKTEXT = ["0.98", "0.99", "1", "1.01", "1.02", "1.03", "1.04"]

# ---------------- sanity ----------------
for rows in (U_ROWS, V_ROWS):
    assert len(rows) == len(Y_GRID), len(rows)
    for k, r in enumerate(rows):
        assert len(r) == len(X_GRID), (k, len(r))
for arr in (X_POS, X_NEG, Y_POS, Y_NEG, VY_POS, VY_NEG, VX_POS, VX_NEG,
            X_POS_B, X_NEG_B, Y_POS_B, Y_NEG_B, VY_POS_B, VY_NEG_B, VX_POS_B, VX_NEG_B):
    assert len(arr) == 160, len(arr)

XP = X_POS + X_POS_B
XN = X_NEG + X_NEG_B
YP = Y_POS + Y_POS_B
YN = Y_NEG + Y_NEG_B
VYP = VY_POS + VY_POS_B
VYN = VY_NEG + VY_NEG_B
VXP = VX_POS + VX_POS_B
VXN = VX_NEG + VX_NEG_B

# ---------------- figure ----------------
W, H = 919, 583
BLUE = "#0000ff"
RED = "#ff0000"
SANS = "Liberation Sans, Arial, sans-serif"
TICKFONT = dict(family=SANS, size=11.5, color="black")
PT = 2.6


def px(x):
    return x / W


def py(y):
    return 1 - y / H


fig = go.Figure()

for xs, ys, col, xa, ya in (
    (XP, YP, BLUE, "x", "y"), (XN, YN, RED, "x", "y"),
    (XP, VYP, BLUE, "x2", "y2"), (XN, VYN, RED, "x2", "y2"),
    (XP, VXP, BLUE, "x4", "y4"), (XN, VXN, RED, "x4", "y4"),
):
    fig.add_trace(go.Scatter(x=xs, y=ys, mode="markers",
                             marker=dict(color=col, size=PT, line=dict(width=0)),
                             xaxis=xa, yaxis=ya, showlegend=False, hoverinfo="skip"))

# bottom-left: quiver
ARROW_UNIT = 0.0005
qx, qy, qu, qv = [], [], [], []
for j, yv in enumerate(Y_GRID):
    for i, xv in enumerate(X_GRID):
        qx.append(xv)
        qy.append(yv)
        qu.append(U_ROWS[j][i] * ARROW_UNIT)
        qv.append(V_ROWS[j][i] * ARROW_UNIT)
qfig = ff.create_quiver(qx, qy, qu, qv, scale=1, arrow_scale=0.32, angle=math.pi / 9,
                        line=dict(color="#1010d8", width=1.4))
qtrace = qfig.data[0]
qtrace.update(xaxis="x3", yaxis="y3", showlegend=False, hoverinfo="skip")
fig.add_trace(qtrace)

# legend entries
for leg, xa, ya in (("legend", "x", "y"), ("legend2", "x2", "y2"), ("legend3", "x4", "y4")):
    fig.add_trace(go.Scatter(x=[None], y=[None], mode="markers", marker=dict(color=BLUE, size=6),
                             name="Positively Charged Particles", legend=leg, xaxis=xa, yaxis=ya))
    fig.add_trace(go.Scatter(x=[None], y=[None], mode="markers", marker=dict(color=RED, size=6),
                             name="Negatively Charged Particles", legend=leg, xaxis=xa, yaxis=ya))


def axis(domain, anchor, rng, mirror=False, **kw):
    d = dict(domain=domain, anchor=anchor, range=rng, showgrid=False, zeroline=False,
             showline=True, linecolor="black", linewidth=1, mirror="ticks" if mirror else False,
             ticks="inside", ticklen=4, tickcolor="black", tickfont=TICKFONT, automargin=False)
    d.update(kw)
    return d


xd_left = [px(58), px(397)]
xd_tr = [px(528), px(862)]
xd_br = [px(522), px(862)]
yd_top = [py(266), py(66)]
yd_bl = [py(555), py(355)]
yd_br = [py(556), py(355)]

xt = dict(tickvals=X_TICKS, ticktext=X_TICKTEXT)
yt = dict(tickvals=Y_TICKS, ticktext=Y_TICKTEXT)
fig.update_layout(
    xaxis=axis(xd_left, "y", [0, 0.2], **xt),
    yaxis=axis(yd_top, "x", [0, 0.15], **yt),
    xaxis2=axis(xd_tr, "y2", [0, 0.2], **xt),
    yaxis2=axis(yd_top, "x2", [-2000, 2000], dtick=500),
    xaxis3=axis(xd_left, "y3", [0, 0.2], mirror=True, **xt),
    yaxis3=axis(yd_bl, "x3", [0, 0.15], mirror=True, **yt),
    xaxis4=axis(xd_br, "y4", [0, 0.2], **xt),
    yaxis4=axis(yd_br, "x4", [9800, 10400], tickvals=VX_TICKVALS, ticktext=VX_TICKTEXT),
)

LEGFONT = dict(family=SANS, size=12.5, color="black")
legstyle = dict(bgcolor="white", bordercolor="black", borderwidth=1, font=LEGFONT,
                xanchor="left", itemwidth=30, tracegroupgap=0)
fig.update_layout(
    legend=dict(x=px(176), y=py(70), yanchor="top", **legstyle),
    legend2=dict(x=px(533), y=py(263), yanchor="bottom", **legstyle),
    legend3=dict(x=px(583), y=py(359), yanchor="top", **legstyle),
)

TITLEFONT = dict(family="Open Sans, Lato, sans-serif", size=28, color="black")
anns = [
    dict(text="<b>X vs Y Particle Propagation</b>", x=px(206), y=py(25)),
    dict(text="<b>Resulting Velocity (V<sub>Y</sub> vs X) in m/s</b>", x=px(673), y=py(25)),
    dict(text="<b>Electric Field</b>", x=px(213), y=py(316)),
    dict(text="<b>Resulting Velocity (V<sub>X</sub> vs X) in m/s</b>", x=px(673), y=py(317)),
]
annotations = []
for a in anns:
    annotations.append(dict(xref="paper", yref="paper", xanchor="center", yanchor="middle",
                            showarrow=False, font=TITLEFONT, **a))

labels = [
    ("Y (m)", 16, 165, -90, 11),
    ("Y (m)", 16, 457, -90, 11),
    ("Y Velocity (m/s)", 477, 167, -90, 11),
    ("X Velocity (m/s)", 478, 457, -90, 11),
    ("X (m)", 226, 289, 0, 11),
    ("X (m)", 693, 289, 0, 11),
    ("X (m)", 227, 577, 0, 11.5),
    ("X (m)", 690, 577, 0, 11.5),
]
for t, x, y, ang, fs in labels:
    annotations.append(dict(text=t, xref="paper", yref="paper", x=px(x), y=py(y),
                            xanchor="center", yanchor="middle", textangle=ang,
                            showarrow=False, font=dict(family=SANS, size=fs, color="black")))
annotations.append(dict(text="x 10<sup>4</sup>", xref="paper", yref="paper", x=px(522), y=py(343),
                        xanchor="left", yanchor="middle", showarrow=False,
                        font=dict(family=SANS, size=11, color="black")))

fig.update_layout(
    width=W, height=H, margin=dict(l=0, r=0, t=0, b=0, pad=0, autoexpand=False),
    paper_bgcolor="white", plot_bgcolor="white",
    annotations=annotations, hovermode=False,
)

fig.write_html("out.html", config={"displayModeBar": False, "staticPlot": True},
               post_script="document.body.style.margin='0px';"
                           "document.body.style.overflow='hidden';")
